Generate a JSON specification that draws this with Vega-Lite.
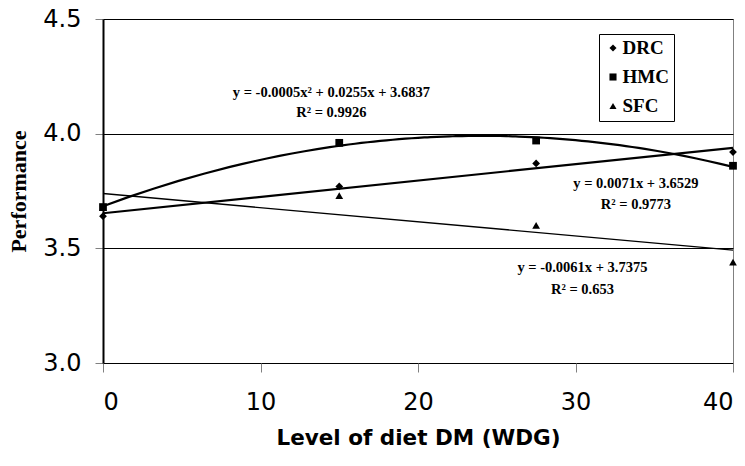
{
  "$schema": "https://vega.github.io/schema/vega-lite/v6.json",
  "width": 630,
  "height": 344,
  "autosize": {"type": "none"},
  "padding": {"left": 103, "top": 19, "right": 12, "bottom": 103},
  "background": "white",
  "config": {
    "view": {"stroke": "#808080", "strokeWidth": 1},
    "axis": {"labelFont": "DejaVu Sans", "labelColor": "black", "tickColor": "#808080", "titleColor": "black"}
  },
  "datasets": {
    "obs": [
      {"series": "DRC", "level": 0, "perf": 3.64},
      {"series": "DRC", "level": 15, "perf": 3.77},
      {"series": "DRC", "level": 27.5, "perf": 3.87},
      {"series": "DRC", "level": 40, "perf": 3.92},
      {"series": "HMC", "level": 0, "perf": 3.68},
      {"series": "HMC", "level": 15, "perf": 3.96},
      {"series": "HMC", "level": 27.5, "perf": 3.97},
      {"series": "HMC", "level": 40, "perf": 3.86},
      {"series": "SFC", "level": 0, "perf": 3.677},
      {"series": "SFC", "level": 15, "perf": 3.73},
      {"series": "SFC", "level": 27.5, "perf": 3.60},
      {"series": "SFC", "level": 40, "perf": 3.44}
    ],
    "notes": [
      {"label": "y = -0.0005x² + 0.0255x + 3.6837", "level": 14.5, "perf": 4.177},
      {"label": "R² = 0.9926", "level": 14.5, "perf": 4.09},
      {"label": "y = 0.0071x + 3.6529", "level": 33.84, "perf": 3.781},
      {"label": "R² = 0.9773", "level": 33.84, "perf": 3.689},
      {"label": "y = -0.0061x + 3.7375", "level": 30.44, "perf": 3.414},
      {"label": "R² = 0.653", "level": 30.44, "perf": 3.318}
    ]
  },
  "encoding": {
    "x": {
      "field": "level", "type": "quantitative",
      "scale": {"domain": [0, 40], "nice": false, "zero": false},
      "axis": {
        "values": [0, 10, 20, 30, 40], "domain": false, "grid": false,
        "tickSize": 9, "labelFontSize": 24, "labelPadding": 18,
        "title": "Level of diet DM (WDG)", "titleFont": "DejaVu Sans",
        "titleFontSize": 21.5, "titleFontWeight": "bold", "titlePadding": 13
      }
    },
    "y": {
      "field": "perf", "type": "quantitative",
      "scale": {"domain": [3, 4.5], "nice": false, "zero": false},
      "axis": {
        "values": [3, 3.5, 4, 4.5], "format": ".1f",
        "domain": true, "domainColor": "black", "domainWidth": 2,
        "grid": true, "gridColor": "black", "gridWidth": 1, "gridOpacity": 1,
        "tickSize": 8, "labelFontSize": 24, "labelPadding": 14,
        "title": "Performance", "titleFont": "Liberation Serif",
        "titleFontSize": 22, "titleFontWeight": "bold", "titlePadding": 12
      }
    }
  },
  "layer": [
    {
      "data": {"name": "obs"},
      "transform": [
        {"filter": "datum.series === 'DRC'"},
        {"regression": "perf", "on": "level", "method": "linear", "extent": [0, 40]}
      ],
      "mark": {"type": "line", "color": "black", "strokeWidth": 2.2}
    },
    {
      "data": {"name": "obs"},
      "transform": [
        {"filter": "datum.series === 'SFC'"},
        {"regression": "perf", "on": "level", "method": "linear", "extent": [0, 40]}
      ],
      "mark": {"type": "line", "color": "black", "strokeWidth": 1.4}
    },
    {
      "data": {"name": "obs"},
      "transform": [
        {"filter": "datum.series === 'HMC'"},
        {"regression": "perf", "on": "level", "method": "poly", "order": 2, "extent": [0, 40]}
      ],
      "mark": {"type": "line", "color": "black", "strokeWidth": 2.2}
    },
    {
      "data": {"name": "obs"},
      "mark": {"type": "point", "filled": true, "color": "black", "size": 60, "opacity": 1},
      "encoding": {
        "shape": {
          "field": "series", "type": "nominal",
          "scale": {"domain": ["DRC", "HMC", "SFC"], "range": ["diamond", "square", "triangle-up"]},
          "legend": {
            "title": null, "orient": "none", "legendX": 496, "legendY": 15,
            "strokeColor": "black", "padding": 4.5,
            "labelFont": "Liberation Serif", "labelFontWeight": "bold", "labelFontSize": 19,
            "labelColor": "black", "symbolFillColor": "black", "symbolStrokeColor": "black",
            "symbolSize": 50, "rowPadding": 9, "labelOffset": 0, "fillColor": "white"
          }
        }
      }
    },
    {
      "data": {"name": "notes"},
      "mark": {"type": "text", "font": "Liberation Serif", "fontWeight": "bold", "fontSize": 14.5, "color": "black", "align": "center", "baseline": "middle"},
      "encoding": {"text": {"field": "label"}}
    }
  ]
}
